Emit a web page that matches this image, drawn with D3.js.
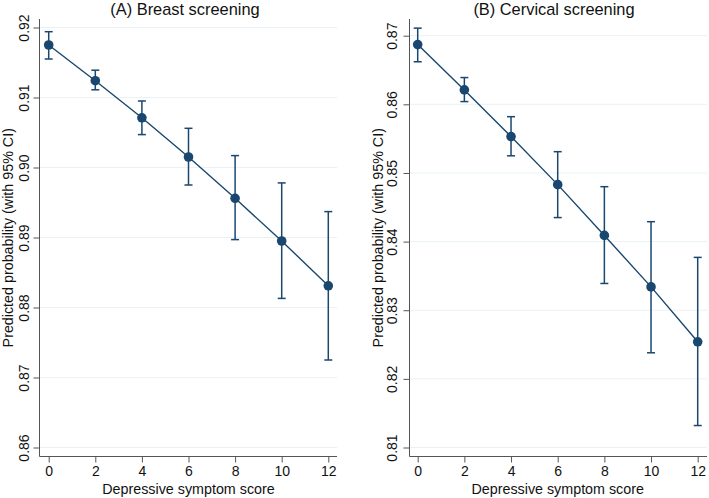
<!DOCTYPE html>
<html><head><meta charset="utf-8">
<script src="https://cdn.jsdelivr.net/npm/d3@7"></script>
<style>body{margin:0;background:#fff;} svg{display:block;font-family:Arial,"Liberation Sans",sans-serif;}</style>
</head><body>
<script>
const scores = [0, 2, 4, 6, 8, 10, 12];
const xTicks = [0, 2, 4, 6, 8, 10, 12];

const breastEst = [0.9175, 0.9124, 0.9071, 0.9015, 0.8956, 0.8895, 0.8831];
const breastLo  = [0.9155, 0.9111, 0.9047, 0.8975, 0.8897, 0.8813, 0.8725];
const breastHi  = [0.9194, 0.9139, 0.9095, 0.9056, 0.9017, 0.8978, 0.8937];
const breastTicks = [0.86, 0.87, 0.88, 0.89, 0.90, 0.91, 0.92];
const breastTickLabels = ["0.86", "0.87", "0.88", "0.89", "0.90", "0.91", "0.92"];

const cervEst = [0.8687, 0.8621, 0.8553, 0.8483, 0.8409, 0.8334, 0.8254];
const cervLo  = [0.8662, 0.8604, 0.8525, 0.8435, 0.8339, 0.8238, 0.8132];
const cervHi  = [0.8711, 0.8639, 0.8582, 0.8531, 0.8480, 0.8429, 0.8377];
const cervTicks = [0.81, 0.82, 0.83, 0.84, 0.85, 0.86, 0.87];
const cervTickLabels = ["0.81", "0.82", "0.83", "0.84", "0.85", "0.86", "0.87"];

const W = 709, H = 498;
const navy = "#1a476f";
const svg = d3.select("body").append("svg").attr("width", W).attr("height", H);

function panel(opts) {
  const {left, right, top, bottom, x0px, x12px, yDomain, yTicks, yLabels, est, lo, hi, title, titleX, ylabX, ytickLabX} = opts;
  const g = svg.append("g");
  const x = d3.scaleLinear().domain([0, 12]).range([x0px, x12px]);
  const y = d3.scaleLinear().domain(yDomain).range([bottom, top]);

  // gridlines
  g.selectAll("line.grid").data(yTicks).join("line")
    .attr("x1", left).attr("x2", right)
    .attr("y1", d => y(d)).attr("y2", d => y(d))
    .attr("stroke", "#eaf2f3").attr("stroke-width", 1);

  // y axis
  const yAxis = d3.axisLeft(y).tickValues(yTicks).tickSize(6).tickFormat((d, i) => yLabels[i]);
  const ga = g.append("g").attr("transform", `translate(${left},0)`).call(yAxis);
  ga.select(".domain").attr("d", `M0,${top}V${bottom}`).attr("stroke", "#555");
  ga.selectAll(".tick line").attr("stroke", "#555");
  ga.selectAll(".tick text").attr("transform", "rotate(-90)").attr("x", 0).attr("y", -(left - ytickLabX) )
    .attr("dy", "0.35em").attr("text-anchor", "middle").attr("font-size", 14).attr("fill", "#111")
    .style("font-family", "Arial, 'Liberation Sans', sans-serif");

  // x axis
  const xAxis = d3.axisBottom(x).tickValues(xTicks).tickSize(6).tickFormat(d3.format("d"));
  const gx = g.append("g").attr("transform", `translate(0,${bottom})`).call(xAxis);
  gx.select(".domain").attr("d", `M${left},0H${right}`).attr("stroke", "#555");
  gx.selectAll(".tick line").attr("stroke", "#555");
  gx.selectAll(".tick text").attr("y", 10).attr("font-size", 14).attr("fill", "#111")
    .style("font-family", "Arial, 'Liberation Sans', sans-serif");

  // error bars
  const capW = 4;
  scores.forEach((s, i) => {
    const cx = x(s);
    g.append("line").attr("x1", cx).attr("x2", cx).attr("y1", y(lo[i])).attr("y2", y(hi[i]))
      .attr("stroke", navy).attr("stroke-width", 1.5);
    [lo[i], hi[i]].forEach(v => {
      g.append("line").attr("x1", cx - capW).attr("x2", cx + capW).attr("y1", y(v)).attr("y2", y(v))
        .attr("stroke", navy).attr("stroke-width", 1.5);
    });
  });

  // line
  const line = d3.line().x((d, i) => x(scores[i])).y(d => y(d));
  g.append("path").datum(est).attr("d", line).attr("fill", "none").attr("stroke", navy).attr("stroke-width", 1.4);

  // points
  g.selectAll("circle.pt").data(est).join("circle")
    .attr("cx", (d, i) => x(scores[i])).attr("cy", d => y(d)).attr("r", 4.8).attr("fill", navy);

  // title
  svg.append("text").attr("x", titleX).attr("y", 15).attr("text-anchor", "middle")
    .attr("font-size", 16.4).attr("fill", "#111").text(title);
  // x label
  svg.append("text").attr("x", (x0px + x12px) / 2).attr("y", 494).attr("text-anchor", "middle")
    .attr("font-size", 14.3).attr("fill", "#111").text("Depressive symptom score");
  // y label
  svg.append("text").attr("transform", `translate(${ylabX},${(top + bottom) / 2}) rotate(-90)`)
    .attr("text-anchor", "middle").attr("dy", "0.35em")
    .attr("font-size", 14.3).attr("fill", "#111").text("Predicted probability (with 95% CI)");
}

panel({
  left: 39.5, right: 337, top: 19, bottom: 456.5, x0px: 48.7, x12px: 328.3,
  yDomain: [0.86 - 9 / 7000, 0.92 + 8.5 / 7000],
  yTicks: breastTicks, yLabels: breastTickLabels,
  est: breastEst, lo: breastLo, hi: breastHi,
  title: "(A) Breast screening", titleX: 185, ylabX: 8, ytickLabX: 24
});

panel({
  left: 409.5, right: 707, top: 19, bottom: 456.5, x0px: 417.7, x12px: 697.7,
  yDomain: [0.81 - 9 / 6867, 0.87 + 16.7 / 6867],
  yTicks: cervTicks, yLabels: cervTickLabels,
  est: cervEst, lo: cervLo, hi: cervHi,
  title: "(B) Cervical screening", titleX: 554, ylabX: 378, ytickLabX: 392
});
</script>
</body></html>
